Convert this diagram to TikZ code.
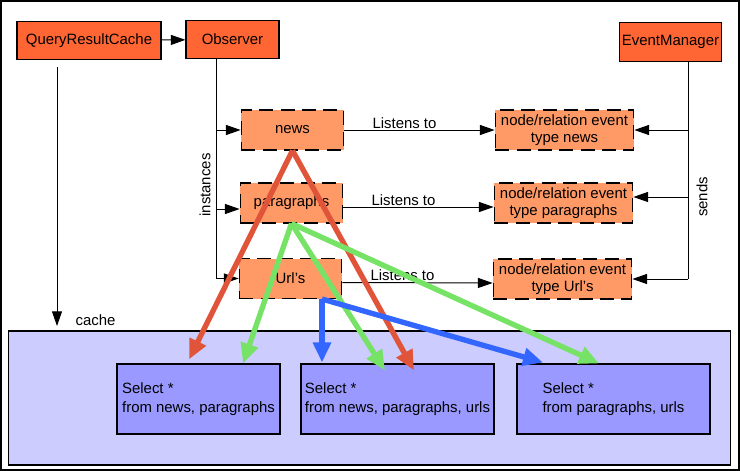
\documentclass[tikz,border=0pt]{standalone}
\usepackage{fontspec}
\setmainfont{Liberation Sans}
\usepackage{tikz}
\usetikzlibrary{arrows.meta,calc}
\definecolor{classc}{HTML}{FF6633}
\definecolor{instc}{HTML}{FF9966}
\definecolor{cachec}{HTML}{CCCCFF}
\definecolor{queryc}{HTML}{9999FF}
\definecolor{newsc}{HTML}{E0553A}
\definecolor{parac}{HTML}{77E366}
\definecolor{urlc}{HTML}{3366FF}
\tikzset{
  basenode/.style={rectangle, draw=black, line width=0.8pt, inner sep=2pt,
    font=\fontsize{11.2}{12.5}\selectfont, align=center},
  classnode/.style={basenode, fill=classc, minimum height=29pt},
  instnode/.style={basenode, fill=instc, dash pattern=on 10.5pt off 5.5pt,
    minimum width=77pt, minimum height=30pt},
  eventnode/.style={instnode, minimum width=104pt},
  cachenode/.style={basenode, fill=cachec, minimum width=542pt, minimum height=100.5pt},
  querynode/.style={basenode, fill=queryc, align=left, minimum height=52.5pt,
    font=\fontsize{11.2}{14.5}\selectfont},
  textlabel/.style={font=\fontsize{11.2}{12.5}\selectfont, inner sep=1pt},
  normaledge/.style={-{Triangle[length=11pt, width=7.5pt]}, draw=black, line width=0.75pt},
  plainedge/.style={draw=black, line width=0.75pt},
  newsedge/.style={-{Triangle[length=15pt, width=13pt]}, draw=newsc, line width=4pt},
  paraedge/.style={newsedge, draw=parac, fill=parac},
  urledge/.style={newsedge, draw=urlc, fill=urlc},
}
\begin{document}
\begin{tikzpicture}[x=0.75pt, y=-0.75pt]
  \useasboundingbox (0,0) rectangle (740,471);
  \draw[line width=1.2pt] (0.8,0.8) rectangle (739.2,470.2);
  % classes
  \node[classnode, minimum width=108pt] (qrc) at (89,40.5) {QueryResultCache};
  \node[classnode, minimum width=69.75pt] (observer) at (232.5,39.5) {Observer};
  \node[classnode, minimum width=75.75pt] (eventmgr) at (670.5,42) {EventManager};
  % observer instances
  \node[instnode] (news) at (292.5,130) {news};
  \node[instnode] (paragraphs) at (291.5,203) {paragraphs};
  \node[instnode] (urls) at (290.5,278.5) {Url's};
  % events
  \node[eventnode] (evnews) at (564.5,130) {node/relation event\\type news};
  \node[eventnode] (evpar) at (563.5,203) {node/relation event\\type paragraphs};
  \node[eventnode] (evurls) at (562.5,279) {node/relation event\\type Url's};
  % cache
  \node[cachenode] (cache) at (369.5,398) {};
  \node[textlabel, anchor=west] (cachelbl) at (74,320) {cache};
  \node[querynode, minimum width=122.25pt] (sel1) at (198.5,399) {Select *\\from news, paragraphs};
  \node[querynode, minimum width=144.75pt] (sel2) at (397.5,399) {Select *\\from news, paragraphs, urls};
  \node[querynode, minimum width=144.75pt] (sel3) at (613.5,399) {Select *\\from paragraphs, urls};
  \coordinate (cachein) at (57,326);
  \coordinate (obsx) at (216,0);
  \coordinate (emx) at (688,0);

  \draw[normaledge] (qrc) -- (observer);
  \draw[normaledge, shorten <=5pt] (qrc.south -| cachein) -- (cachein);
  % instances
  \draw[normaledge] (observer.south -| obsx) |- (news.west);
  \draw[normaledge] (observer.south -| obsx) |- ([yshift=-4.5pt]paragraphs.west);
  \draw[normaledge] (observer.south -| obsx) |- (urls.west);
  \node[textlabel, rotate=90] (instlbl) at (205,185) {instances};
  % sends
  \draw[plainedge] (eventmgr.south -| emx) -- (emx |- evurls.east);
  \draw[normaledge] (emx |- evnews.east) -- (evnews.east);
  \draw[normaledge] ([yshift=4.5pt]emx |- evpar.east) -- ([yshift=4.5pt]evpar.east);
  \draw[normaledge] (emx |- evurls.east) -- (evurls.east);
  \node[textlabel, rotate=90] (sendslbl) at (702,197) {sends};
  % listens to
  \draw[normaledge] (news.east) -- node[textlabel, above, pos=0.4] {Listens to} (evnews.west);
  \draw[normaledge] ([yshift=-3pt]paragraphs.east) -- node[textlabel, above, pos=0.4] {Listens to} ([yshift=-3pt]evpar.west);
  \draw[normaledge] ([yshift=-3pt]urls.east) -- node[textlabel, above, pos=0.4] {Listens to} ([yshift=-3pt]evurls.west);
  % queries
  \draw[newsedge] (news.south) -- ($(sel1.north)+(-9.5,-4)$);
  \draw[newsedge] (news.south) -- ($(sel2.north)+(16.5,7)$);
  \draw[paraedge] (paragraphs.south) -- ($(sel1.north)+(44.5,0)$);
  \draw[paraedge] (paragraphs.south) -- ($(sel2.north)+(-12.5,7)$);
  \draw[paraedge] (paragraphs.south) -- ($(sel3.north)+(-14.5,0)$);
  \draw[urledge] ($(urls.south)+(31.5,0)$) -- ($(sel2.north)+(-75.5,-1)$);
  \draw[urledge] ($(urls.south)+(31.5,0)$) -- ($(sel3.north)+(-70.5,-1)$);
\end{tikzpicture}
\end{document}
